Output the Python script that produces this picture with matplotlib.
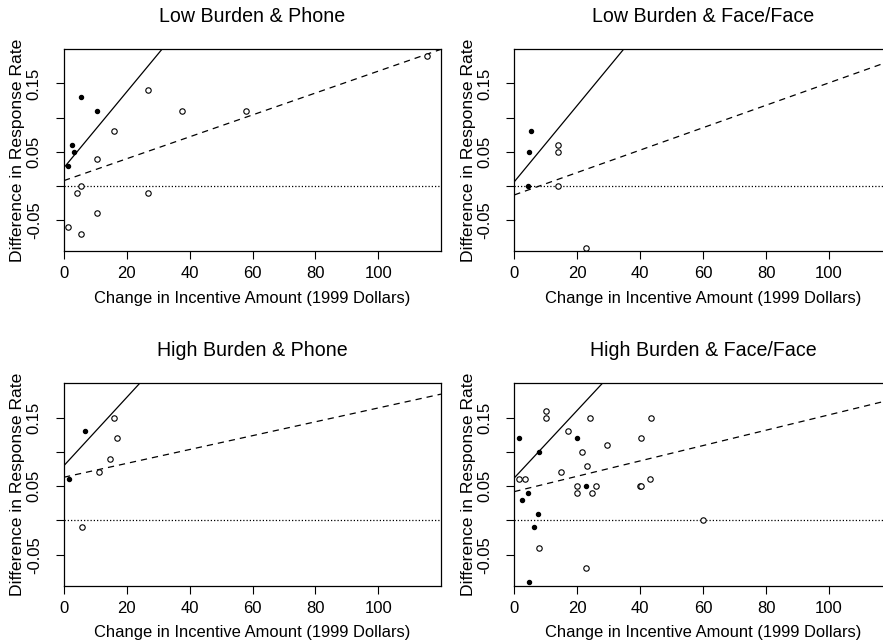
import matplotlib
matplotlib.use("Agg")
import matplotlib.pyplot as plt
import numpy as np

plt.rcParams['font.family'] = ['Liberation Sans', 'DejaVu Sans']

# --------------------------
# data
# --------------------------
titles = ["Low Burden & Phone", "Low Burden & Face/Face",
          "High Burden & Phone", "High Burden & Face/Face"]

# filled dots
lp_fill_x = [1.4, 2.4, 3.2, 5.3, 10.6]
lp_fill_y = [0.03, 0.06, 0.05, 0.13, 0.11]
# open circles
lp_open_x = [1.4, 4.0, 5.3, 5.3, 10.6, 10.6, 16.0, 26.8, 26.8, 37.5, 57.8, 115.7]
lp_open_y = [-0.06, -0.01, 0.0, -0.07, 0.04, -0.04, 0.08, 0.14, -0.01, 0.11, 0.11, 0.19]

lf_fill_x = [5.2, 4.8, 4.5]
lf_fill_y = [0.08, 0.05, 0.0]
lf_open_x = [13.8, 13.8, 13.8, 22.8]
lf_open_y = [0.06, 0.05, 0.0, -0.09]

hp_fill_x = [1.6, 6.8]
hp_fill_y = [0.06, 0.13]
hp_open_x = [5.7, 11.2, 14.7, 16.0, 17.0]
hp_open_y = [-0.01, 0.07, 0.09, 0.15, 0.12]

hf_fill_x = [1.5, 2.4, 4.4, 4.6, 7.4, 7.7, 6.2, 20.0, 22.8]
hf_fill_y = [0.12, 0.03, 0.04, -0.09, 0.01, 0.10, -0.01, 0.12, 0.05]
hf_open_x = [1.5, 3.5, 7.7, 10.2, 10.2, 14.8, 17.2, 20.0, 20.0, 21.6, 23.2, 23.9,
             22.8, 24.7, 25.8, 29.5, 40.0, 40.2, 40.1, 43.1, 43.3, 59.8]
hf_open_y = [0.06, 0.06, -0.04, 0.15, 0.16, 0.07, 0.13, 0.05, 0.04, 0.10, 0.08, 0.15,
             -0.07, 0.04, 0.05, 0.11, 0.05, 0.05, 0.12, 0.06, 0.15, 0.0]

# fitted lines: (intercept, slope)
solid_fit = [(0.027, 0.00555), (0.0063, 0.00558), (0.080, 0.00498), (0.062, 0.00493)]
dashed_fit = [(0.008, 0.00160), (-0.013, 0.00164), (0.063, 0.00101), (0.042, 0.00112)]

fills = [(lp_fill_x, lp_fill_y), (lf_fill_x, lf_fill_y),
         (hp_fill_x, hp_fill_y), (hf_fill_x, hf_fill_y)]
opens = [(lp_open_x, lp_open_y), (lf_open_x, lf_open_y),
         (hp_open_x, hp_open_y), (hf_open_x, hf_open_y)]

yticks = [-0.05, 0.0, 0.05, 0.10, 0.15]
ytick_labels = ["-0.05", "", "0.05", "", "0.15"]
xticks = [0, 20, 40, 60, 80, 100]

W, H = 883, 643
fig = plt.figure(figsize=(W / 100, H / 100), dpi=100)

# panel boxes in pixels: left, top, right, bottom
boxes = [(64, 49.3, 441, 251), (514.3, 49.3, 892, 251),
         (64, 383.3, 441, 585.5), (514.3, 383.3, 892, 585.5)]

xs = np.array([0, 120])
for i, (l, t, r, b) in enumerate(boxes):
    ax = fig.add_axes([l / W, 1 - b / H, (r - l) / W, (b - t) / H])
    ax.set_xlim(0, 120)
    ax.set_ylim(-0.095, 0.2)
    wpx, hpx = r - l, b - t

    ax.axhline(0, color="black", lw=0.9, linestyle=(0, (1, 1.6)))
    a, s = solid_fit[i]
    ax.plot(xs, a + s * xs, color="black", lw=0.9)
    a, s = dashed_fit[i]
    ax.plot(xs, a + s * xs, color="black", lw=0.9, linestyle=(0, (5, 4)))

    ox, oy = opens[i]
    ax.plot(ox, oy, "o", mfc="white", mec="black", ms=3.9, mew=0.8, ls="none")
    fx, fy = fills[i]
    ax.plot(fx, fy, "o", color="black", ms=2.9, ls="none")

    ax.set_xticks(xticks)
    ax.set_yticks(yticks)
    ax.set_yticklabels(ytick_labels, rotation=90, va="center")
    ax.tick_params(direction="out", length=6, width=0.8, labelsize=12)
    ax.tick_params(axis="x", pad=5)
    ax.tick_params(axis="y", pad=10)
    for sp in ax.spines.values():
        sp.set_linewidth(0.9)

    # title centred ~33 px above the box
    ax.text(0.5, 1 + 33 / hpx, titles[i], transform=ax.transAxes,
            ha="center", va="center", fontsize=14.1)
    ax.set_xlabel("Change in Incentive Amount (1999 Dollars)", fontsize=11.9)
    ax.xaxis.set_label_coords(0.5, -47 / hpx)
    ax.xaxis.label.set_va("center")
    ax.set_ylabel("Difference in Response Rate", fontsize=12.6)
    ax.yaxis.set_label_coords(-46 / wpx, 0.5)
    ax.yaxis.label.set_va("center")

fig.savefig("out.png", dpi=100)
